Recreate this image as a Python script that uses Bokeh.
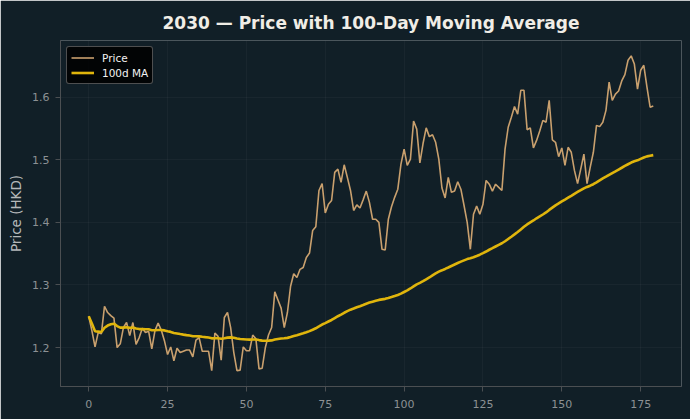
import pandas as pd
from bokeh.plotting import figure
from bokeh.models import ColumnDataSource, Legend, LegendItem, FixedTicker
from bokeh.embed import file_html
from bokeh.resources import INLINE

# ---- data ----
days = list(range(180))
prices = [
    1.250, 1.227, 1.201, 1.224, 1.222, 1.266, 1.256, 1.251, 1.247, 1.200,
    1.206, 1.232, 1.240, 1.219, 1.240, 1.205, 1.216, 1.231, 1.224, 1.226,
    1.198, 1.227, 1.239, 1.228, 1.211, 1.189, 1.201, 1.179, 1.199, 1.192,
    1.194, 1.196, 1.196, 1.185, 1.212, 1.216, 1.194, 1.194, 1.194, 1.163,
    1.223, 1.218, 1.180, 1.248, 1.256, 1.232, 1.192, 1.163, 1.164, 1.201,
    1.195, 1.195, 1.220, 1.214, 1.166, 1.167, 1.200, 1.220, 1.232, 1.289,
    1.276, 1.263, 1.232, 1.256, 1.298, 1.318, 1.312, 1.325, 1.328, 1.344,
    1.351, 1.387, 1.393, 1.451, 1.462, 1.415, 1.429, 1.435, 1.480, 1.485,
    1.464, 1.492, 1.472, 1.451, 1.419, 1.428, 1.423, 1.436, 1.450, 1.432,
    1.405, 1.405, 1.400, 1.357, 1.356, 1.405, 1.425, 1.440, 1.453, 1.493,
    1.517, 1.491, 1.501, 1.562, 1.549, 1.495, 1.526, 1.551, 1.537, 1.540,
    1.528, 1.501, 1.455, 1.439, 1.472, 1.448, 1.450, 1.465, 1.453, 1.427,
    1.400, 1.357, 1.413, 1.426, 1.413, 1.429, 1.467, 1.461, 1.450, 1.461,
    1.456, 1.451, 1.517, 1.552, 1.568, 1.585, 1.573, 1.611, 1.611, 1.548,
    1.551, 1.519, 1.531, 1.546, 1.563, 1.560, 1.595, 1.532, 1.528, 1.505,
    1.519, 1.491, 1.520, 1.512, 1.483, 1.462, 1.485, 1.509, 1.462, 1.488,
    1.512, 1.555, 1.553, 1.560, 1.579, 1.624, 1.595, 1.605, 1.610, 1.626,
    1.636, 1.659, 1.666, 1.653, 1.613, 1.643, 1.651, 1.616, 1.584, 1.586,
]
ma_window = 100
x_ticks = [0, 25, 50, 75, 100, 125, 150, 175]
y_ticks = [1.2, 1.3, 1.4, 1.5, 1.6]
title_text = "2030 \u2014 Price with 100-Day Moving Average"
y_label = "Price (HKD)"
series_labels = ["Price", "100d MA"]

ma = pd.Series(prices).rolling(ma_window, min_periods=1).mean().tolist()
source = ColumnDataSource(dict(day=days, price=prices, ma=ma))

BG = "#111f27"
FONT = "DejaVu Sans"

p = figure(
    width=690, height=419,
    output_backend="svg", toolbar_location=None,
    x_range=(-8.95, 187.95), y_range=(1.1378, 1.6906),
    background_fill_color=BG, border_fill_color=BG,
    min_border_left=60, min_border_right=9, min_border_top=40, min_border_bottom=33,
    title=title_text,
)
p.outline_line_color = None

p.title.align = "center"
p.title.text_color = "#f0ede6"
p.title.text_font = FONT
p.title.text_font_size = "17px"
p.title.text_font_style = "bold"
p.title.standoff = 16

r_price = p.line("day", "price", source=source, line_color="#c9a06e", line_width=1.6)
r_ma = p.line("day", "ma", source=source, line_color="#e0b50c", line_width=2.6)

for ax in (p.xaxis[0], p.yaxis[0]):
    ax.axis_line_color = "#4b4f52"
    ax.major_tick_line_color = "#4b4f52"
    ax.major_tick_out = 5
    ax.major_tick_in = 0
    ax.minor_tick_line_color = None
    ax.major_label_text_color = "#8c9194"
    ax.major_label_text_font = FONT
    ax.major_label_text_font_size = "11px"

p.xaxis[0].ticker = FixedTicker(ticks=x_ticks)
p.yaxis[0].ticker = FixedTicker(ticks=y_ticks)
p.xaxis[0].major_label_standoff = 8
p.yaxis[0].major_label_standoff = 6
p.yaxis[0].axis_label = y_label
p.yaxis[0].axis_label_text_color = "#b5b8ba"
p.yaxis[0].axis_label_text_font = FONT
p.yaxis[0].axis_label_text_font_size = "13.5px"
p.yaxis[0].axis_label_text_font_style = "normal"
p.yaxis[0].axis_label_standoff = 5

p.xgrid.grid_line_color = "#ffffff"
p.xgrid.grid_line_alpha = 0.035
p.ygrid.grid_line_color = "#ffffff"
p.ygrid.grid_line_alpha = 0.035

legend = Legend(
    items=[LegendItem(label=series_labels[0], renderers=[r_price]),
           LegendItem(label=series_labels[1], renderers=[r_ma])],
    location="top_left",
)
legend.margin = 6
legend.padding = 4
legend.spacing = 2
legend.glyph_width = 23
legend.glyph_height = 13
legend.label_height = 13
legend.label_standoff = 8
legend.label_text_font = FONT
legend.label_text_font_size = "10.5px"
legend.label_text_color = "#f2f2f2"
legend.background_fill_color = "#000000"
legend.background_fill_alpha = 0.85
legend.border_line_color = "#9a9a9a"
legend.border_line_width = 1
legend.border_radius = 3
p.add_layout(legend)

open("out.html", "w").write(file_html(p, INLINE))
